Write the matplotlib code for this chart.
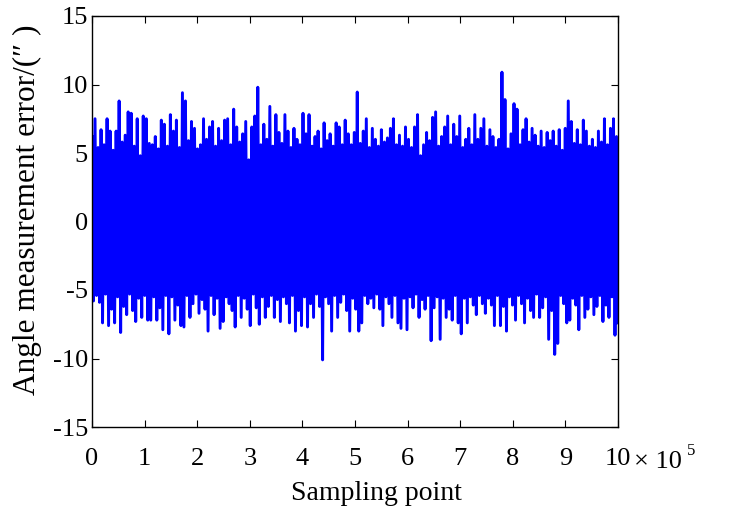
import numpy as np
import matplotlib.pyplot as plt

plt.rcParams['font.family'] = ['Liberation Serif', 'DejaVu Serif']

# upper / lower extremes of the error signal, one pair per ~5700 samples
upper = [6.2, 7.5, 5.4, 6.7, 5.6, 7.5, 6.6, 5.2, 6.6, 8.8, 5.8, 6.3, 8.0, 7.9, 5.5, 7.5, 4.8, 7.7, 7.5, 5.7, 5.6, 6.2, 5.3, 7.4, 7.1,
         5.5, 7.8, 6.6, 7.4, 5.4, 9.4, 8.8, 5.9, 7.3, 6.8, 5.3, 5.6, 7.5, 6.0, 6.9, 7.3, 5.5, 6.8, 5.9, 7.4, 7.5, 5.6, 8.2, 6.9, 5.8,
         6.4, 7.3, 4.5, 6.9, 7.7, 9.8, 5.6, 7.1, 6.0, 8.4, 5.5, 7.8, 6.5, 5.7, 7.8, 6.6, 5.4, 6.8, 6.0, 5.6, 7.9, 6.4, 7.8, 5.5, 6.2,
         6.6, 5.3, 7.2, 5.9, 6.4, 5.5, 7.2, 6.9, 5.6, 7.4, 6.4, 5.6, 6.5, 9.45, 5.7, 6.6, 7.5, 5.4, 6.8, 6.0, 5.5, 6.7, 5.8, 6.1, 6.8,
         7.5, 5.6, 6.3, 5.5, 6.9, 6.0, 5.4, 6.9, 7.8, 4.8, 5.6, 6.5, 5.9, 7.6, 8.0, 5.5, 6.2, 6.9, 7.7, 5.6, 7.1, 6.2, 7.7, 5.4, 6.0,
         6.8, 5.6, 7.8, 6.0, 6.8, 7.5, 5.5, 6.7, 6.2, 5.4, 6.0, 10.9, 8.9, 5.3, 6.4, 8.6, 8.2, 5.6, 6.7, 7.5, 5.8, 6.8, 6.3, 5.5, 6.6,
         5.4, 6.5, 5.9, 6.6, 5.5, 6.7, 5.2, 6.8, 8.8, 7.3, 5.7, 6.7, 5.6, 7.4, 6.6, 5.5, 6.0, 5.4, 6.6, 5.8, 7.5, 5.6, 6.8, 7.5, 6.2]
lower = [-5.8, -5.4, -5.9, -7.4, -5.3, -7.6, -6.4, -7.4, -5.5, -8.1, -6.2, -6.8, -5.3, -6.5, -7.3, -5.6, -7.0, -5.4, -7.2, -7.2, -5.5, -7.2, -6.3, -7.9, -5.4,
         -8.2, -5.5, -7.2, -6.1, -7.6, -7.7, -5.4, -7.0, -6.0, -5.3, -6.7, -5.7, -6.4, -8.0, -5.4, -6.8, -5.6, -7.8, -7.3, -5.5, -6.0, -6.5, -7.7, -5.4, -7.0,
         -5.6, -6.4, -7.6, -5.3, -6.3, -7.5, -5.5, -7.0, -6.2, -5.4, -7.0, -5.7, -7.3, -5.5, -6.0, -7.4, -5.4, -8.0, -6.5, -7.6, -5.5, -7.7, -6.0, -7.0, -5.3,
         -6.2, -10.1, -5.5, -6.0, -8.0, -5.4, -7.0, -5.9, -5.3, -6.5, -8.0, -5.6, -6.4, -8.0, -7.4, -5.4, -6.0, -5.6, -6.3, -5.3, -6.4, -7.6, -5.5, -6.0, -7.0,
         -5.4, -7.4, -7.8, -5.6, -7.9, -5.5, -6.3, -5.3, -7.0, -5.7, -6.4, -5.4, -8.7, -6.3, -5.5, -8.6, -5.6, -7.0, -6.4, -7.2, -5.4, -7.4, -8.2, -5.6, -7.4,
         -5.5, -6.1, -6.8, -5.4, -6.0, -6.7, -5.6, -6.1, -7.6, -5.4, -7.6, -6.2, -8.0, -5.5, -6.1, -7.2, -5.4, -6.0, -7.4, -5.6, -6.5, -7.0, -5.3, -7.0, -6.3,
         -5.5, -8.6, -6.5, -9.7, -8.9, -5.4, -6.0, -7.4, -7.2, -5.6, -6.1, -7.9, -5.4, -7.0, -6.4, -5.5, -6.8, -6.2, -5.4, -7.3, -6.1, -7.0, -5.5, -8.3, -7.4]

x_ticks = [0, 1e5, 2e5, 3e5, 4e5, 5e5, 6e5, 7e5, 8e5, 9e5, 1e6]
x_tick_labels = ['0', '1', '2', '3', '4', '5', '6', '7', '8', '9', '10']
y_ticks = [-15, -10, -5, 0, 5, 10, 15]
y_tick_labels = ['-15', '-10', '-5', '0', '5', '10', '15']

# zigzag max -> min -> max ... across the sample range
n = len(upper)
xs = np.linspace(0, 1e6, 2 * n)
ys = np.empty(2 * n)
ys[0::2] = upper
ys[1::2] = lower

fig = plt.figure(figsize=(7.29, 5.21), dpi=100)
ax = fig.add_axes([92 / 729, 1 - 427 / 521, 526 / 729, 411 / 521])
ax.plot(xs, ys, color='#0000ff', lw=2.1)

ax.set_xlim(0, 1e6)
ax.set_ylim(-15, 15)
ax.set_xticks(x_ticks)
ax.set_xticklabels(x_tick_labels)
ax.set_yticks(y_ticks)
ax.set_yticklabels(y_tick_labels)
ax.tick_params(direction='in', length=5, width=0.8, top=True, right=True, labelsize=19)
ax.tick_params(axis='x', pad=15)
ax.tick_params(axis='y', pad=3)
for s in ax.spines.values():
    s.set_linewidth(1.0)

fig.text(376 / 729, 1 - 493 / 521, 'Sampling point', ha='center', va='center', fontsize=20)
fig.text(27 / 729, 1 - 210 / 521, 'Angle measurement error/(″ )', ha='center', va='center',
         rotation=90, fontsize=22.5)
fig.text(634 / 729, 1 - 462 / 521, '× 10', ha='left', va='center', fontsize=19)
fig.text(687 / 729, 1 - 451 / 521, '5', ha='left', va='center', fontsize=12)

fig.savefig('out.png', dpi=100)
